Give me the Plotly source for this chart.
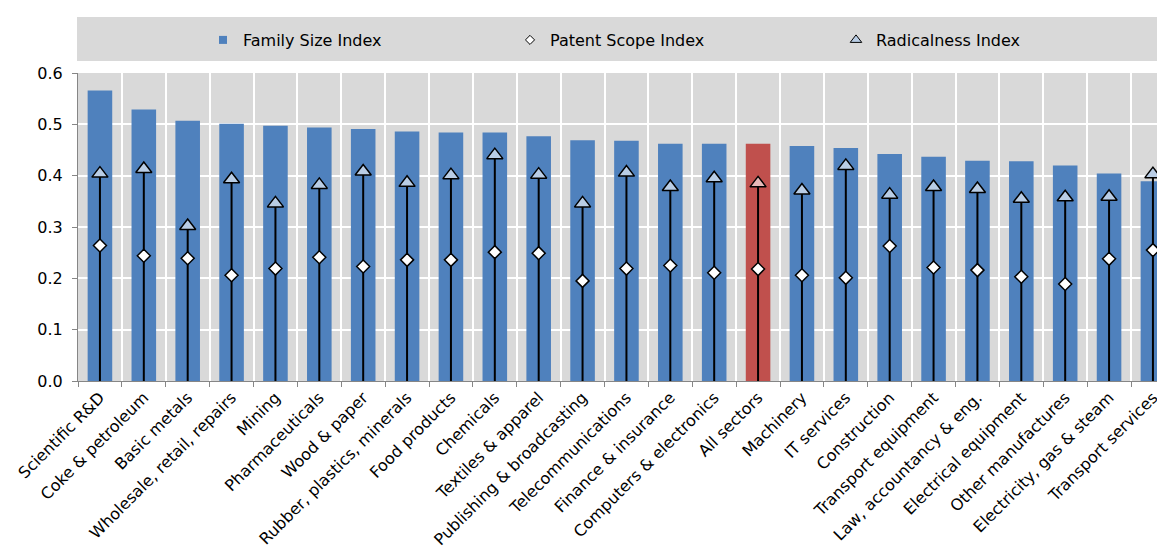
import plotly.graph_objects as go

categories = [
    "Scientific R&D", "Coke & petroleum", "Basic metals", "Wholesale, retail, repairs",
    "Mining", "Pharmaceuticals", "Wood & paper", "Rubber, plastics, minerals",
    "Food products", "Chemicals", "Textiles & apparel", "Publishing & broadcasting",
    "Telecommunications", "Finance & insurance", "Computers & electronics", "All sectors",
    "Machinery", "IT services", "Construction", "Transport equipment",
    "Law, accountancy & eng.", "Electrical equipment", "Other manufactures",
    "Electricity, gas & steam", "Transport services",
]
family_size = [0.566, 0.529, 0.507, 0.501, 0.497, 0.494, 0.491, 0.486, 0.484, 0.484,
               0.477, 0.469, 0.468, 0.462, 0.462, 0.462, 0.458, 0.454, 0.442, 0.437,
               0.429, 0.428, 0.420, 0.404, 0.389]
patent_scope = [0.264, 0.244, 0.239, 0.206, 0.219, 0.241, 0.223, 0.236, 0.236, 0.251,
                0.249, 0.195, 0.219, 0.225, 0.211, 0.218, 0.206, 0.201, 0.263, 0.221,
                0.216, 0.203, 0.189, 0.238, 0.255]
radicalness = [0.404, 0.413, 0.302, 0.393, 0.346, 0.382, 0.408, 0.386, 0.401, 0.440,
               0.402, 0.346, 0.406, 0.378, 0.395, 0.385, 0.371, 0.419, 0.363, 0.378,
               0.374, 0.355, 0.358, 0.359, 0.403]
y_ticks = [0.0, 0.1, 0.2, 0.3, 0.4, 0.5, 0.6]
highlight = "All sectors"

BLUE = "#4F81BD"
RED = "#C0504D"
TRI_BLUE = "#B9CDE5"
TRI_RED = "#E6B9B8"
GREY_BG = "#D9D9D9"
AXIS = "#868686"
FONT = "DejaVu Sans, Liberation Sans, Arial, sans-serif"

bar_colors = [RED if c == highlight else BLUE for c in categories]
tri_colors = [TRI_RED if c == highlight else TRI_BLUE for c in categories]

fig = go.Figure()

fig.add_trace(go.Bar(
    x=categories, y=family_size, marker=dict(color=bar_colors, line=dict(width=0)),
    width=0.56, showlegend=False, name="Family Size Index",
))

fig.add_trace(go.Scatter(
    x=categories, y=radicalness, mode="markers", showlegend=False, name="Radicalness Index",
    marker=dict(symbol="triangle-up", size=14, color=tri_colors,
                line=dict(color="black", width=1.5)),
    error_y=dict(type="data", symmetric=False, array=[0] * len(radicalness),
                 arrayminus=radicalness, color="black", thickness=2, width=0),
))

fig.add_trace(go.Scatter(
    x=categories, y=patent_scope, mode="markers", showlegend=False, name="Patent Scope Index",
    marker=dict(symbol="diamond", size=10, color="white",
                line=dict(color="black", width=1.5)),
))

# legend entries
fig.add_trace(go.Scatter(x=[None], y=[None], mode="markers", name="Family Size Index",
                         legend="legend",
                         marker=dict(symbol="square", size=8, color=BLUE)))
fig.add_trace(go.Scatter(x=[None], y=[None], mode="markers", name="Patent Scope Index",
                         legend="legend2",
                         marker=dict(symbol="diamond", size=7, color="white",
                                     line=dict(color="black", width=1))))
fig.add_trace(go.Scatter(x=[None], y=[None], mode="markers", name="Radicalness Index",
                         legend="legend3",
                         marker=dict(symbol="triangle-up", size=10, color=TRI_BLUE,
                                     line=dict(color="black", width=1))))

# page offset (browser body margin) compensation
OFF = 8
W, H = 1165 - OFF, 551 - OFF
ML, MR, MT = 78 - OFF, 0, 73 - OFF
MB = H - MT - 308
PW, PH = W - ML - MR, H - MT - MB


def px_x(p):
    return (p - OFF - ML) / PW


def px_y(p):
    return (H - MB - (p - OFF)) / PH


leg_common = dict(orientation="h", xanchor="left", yanchor="middle", y=px_y(40),
                  bgcolor="rgba(0,0,0,0)", borderwidth=0,
                  font=dict(family=FONT, size=16, color="black"))

fig.update_layout(
    width=W, height=H,
    margin=dict(l=ML, r=MR, t=MT, b=MB, autoexpand=False),
    paper_bgcolor="white", plot_bgcolor=GREY_BG,
    font=dict(family=FONT, size=16, color="black"),
    legend=dict(x=px_x(203), **leg_common),
    legend2=dict(x=px_x(510), **leg_common),
    legend3=dict(x=px_x(836), **leg_common),
    shapes=[dict(type="rect", xref="paper", yref="paper",
                 x0=px_x(77), x1=1.0, y0=px_y(61), y1=px_y(17),
                 fillcolor=GREY_BG, line=dict(width=0), layer="below")],
    xaxis=dict(
        type="category", categoryorder="array", categoryarray=categories,
        range=[-0.5, 24.275], tickson="boundaries", ticks="outside", ticklen=5,
        tickcolor=AXIS, tickwidth=1, showline=True, linecolor=AXIS, linewidth=1,
        showgrid=True, gridcolor="white", gridwidth=2, tickangle=-45,
        tickfont=dict(family=FONT, size=16, color="black"), automargin=False,
        fixedrange=True,
    ),
    yaxis=dict(
        range=[0, 0.6], tickvals=y_ticks, tickformat=".1f", ticks="outside", ticklen=5,
        tickcolor=AXIS, showline=True, linecolor=AXIS, linewidth=1,
        showgrid=True, gridcolor="white", gridwidth=2, zeroline=False,
        tickfont=dict(family=FONT, size=16, color="black"), automargin=False,
        ticklabelstandoff=6,
    ),
)

fig.write_html("out.html", default_width=f"{W}px", default_height=f"{H}px")
